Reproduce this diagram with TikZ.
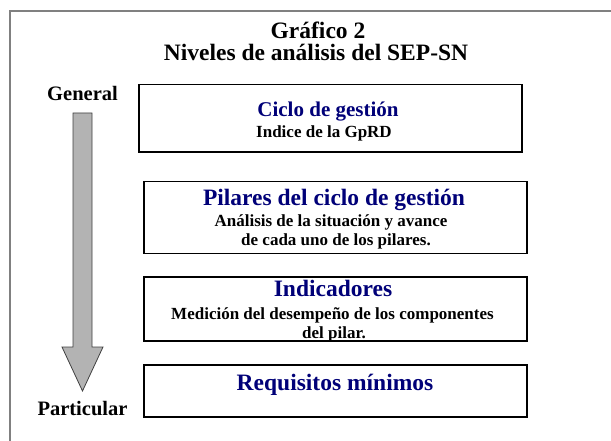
\documentclass[tikz,border=0pt]{standalone}
\usepackage{fontspec}
\setmainfont{Liberation Serif}
\definecolor{navy}{RGB}{0,0,120}
\definecolor{framegray}{RGB}{128,128,128}
\definecolor{arrowfill}{RGB}{179,179,179}
\begin{document}
\begin{tikzpicture}[x=1pt,y=-1pt,
  levelbox/.style={draw=black,line width=1.1pt,minimum width=383pt,inner sep=0pt,fill=white},
  ttl/.style={font=\bfseries\fontsize{23.5}{28}\selectfont,anchor=base,inner sep=0pt},
  head/.style={font=\bfseries\fontsize{23.5}{28}\selectfont,text=navy,anchor=base,inner sep=0pt},
  sub/.style={font=\bfseries\fontsize{17}{20}\selectfont,anchor=base,inner sep=0pt},
  side/.style={font=\bfseries\fontsize{20.5}{24}\selectfont,anchor=base,inner sep=0pt}]
\useasboundingbox (0,0) rectangle (611,441);
% frame
\draw[framegray,line width=2pt] (10,442) -- (10,11) -- (612,11);
% title
\node[ttl] (t1) at (318,38.5) {Gráfico 2};
\node[ttl] (t2) at (316,61) {Niveles de análisis del SEP-SN};
% arrow
\draw[fill=arrowfill,draw=black!75,line width=0.8pt]
  (73,113) -- (92,113) -- (92,347) -- (103,347) -- (82.5,391) -- (62,347) -- (73,347) -- cycle;
\node[side] (gen) at (82.5,100.7) {General};
\node[side] (par) at (82.5,415) {Particular};
% boxes
\node[levelbox,minimum height=67.5pt] (b1) at (330.5,118.25) {};
\node[levelbox,minimum height=72pt] (b2) at (335.5,217.5) {};
\node[levelbox,minimum height=64pt] (b3) at (335.5,309) {};
\node[levelbox,minimum height=52pt] (b4) at (335.5,391) {};
% box texts
\node[head,font=\bfseries\fontsize{21}{25}\selectfont] (h1) at (328,117) {Ciclo de gestión};
\node[sub] (s1) at (324,138) {Indice de la GpRD};
\node[head] (h2) at (334,206) {Pilares del ciclo de gestión};
\node[sub] (s2a) at (331,226.7) {Análisis de la situación y avance};
\node[sub] (s2b) at (336,246) {de cada uno de los pilares.};
\node[head] (h3) at (333,296.7) {Indicadores};
\node[sub] (s3a) at (332.5,319) {Medición del desempeño de los componentes};
\node[sub] (s3b) at (334,338.7) {del pilar.};
\node[head] (h4) at (335,390.7) {Requisitos mínimos};
\end{tikzpicture}
\end{document}
